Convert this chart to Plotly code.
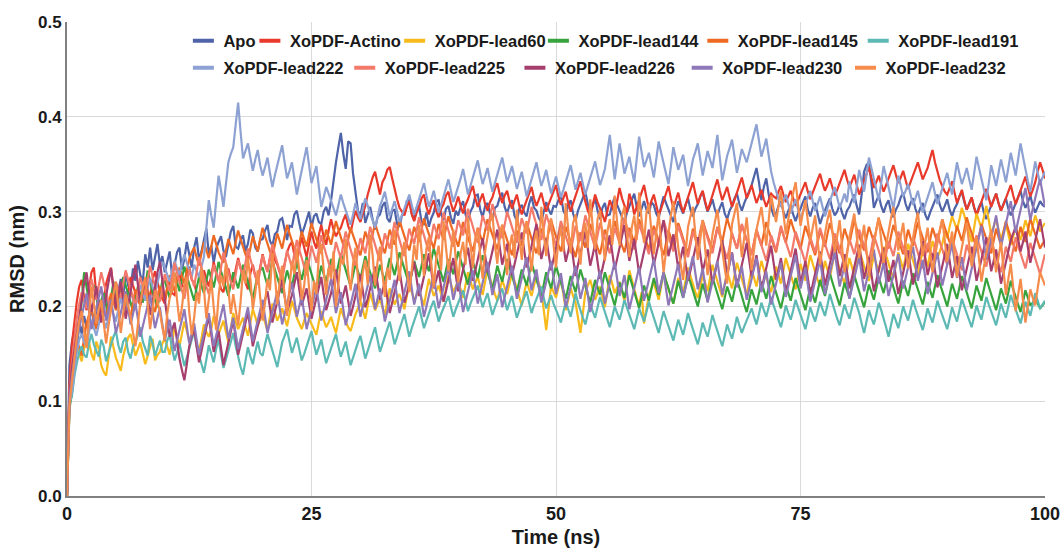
import plotly.graph_objects as go

# Time axis: 0 to 100 ns sampled every 0.25 ns (401 samples)
n_samples = 401
time_ns = [i * 0.25 for i in range(n_samples)]

series_names = ["Apo", "XoPDF-Actino", "XoPDF-lead60", "XoPDF-lead144", "XoPDF-lead145",
                "XoPDF-lead191", "XoPDF-lead222", "XoPDF-lead225", "XoPDF-lead226",
                "XoPDF-lead230", "XoPDF-lead232"]

apo = [
    0.000, 0.138, 0.162, 0.175, 0.168, 0.183, 0.171, 0.190, 0.178, 0.186, 0.199, 0.181, 0.195, 0.207, 0.188, 0.202, 0.214, 0.196, 0.209, 0.220,
    0.204, 0.217, 0.229, 0.211, 0.236, 0.222, 0.218, 0.240, 0.227, 0.248, 0.233, 0.226, 0.255, 0.241, 0.262, 0.238, 0.251, 0.266, 0.244, 0.253,
    0.236, 0.249, 0.258, 0.231, 0.244, 0.257, 0.262, 0.239, 0.250, 0.268, 0.255, 0.241, 0.262, 0.273, 0.249, 0.258, 0.270, 0.282, 0.255, 0.264,
    0.246, 0.261, 0.268, 0.274, 0.259, 0.252, 0.266, 0.279, 0.285, 0.263, 0.261, 0.270, 0.275, 0.258, 0.266, 0.281, 0.277, 0.262, 0.258, 0.270,
    0.271, 0.280, 0.286, 0.269, 0.264, 0.276, 0.279, 0.291, 0.293, 0.281, 0.270, 0.285, 0.284, 0.297, 0.301, 0.288, 0.276, 0.283, 0.292, 0.300,
    0.283, 0.295, 0.298, 0.289, 0.287, 0.300, 0.305, 0.296, 0.312, 0.334, 0.352, 0.368, 0.383, 0.361, 0.345, 0.374, 0.372, 0.340, 0.318, 0.301,
    0.296, 0.309, 0.288, 0.297, 0.305, 0.292, 0.281, 0.294, 0.297, 0.306, 0.310, 0.293, 0.289, 0.301, 0.302, 0.287, 0.284, 0.296, 0.299, 0.311,
    0.312, 0.298, 0.291, 0.304, 0.306, 0.289, 0.287, 0.299, 0.284, 0.293, 0.299, 0.311, 0.312, 0.297, 0.291, 0.303, 0.306, 0.294, 0.287, 0.301,
    0.296, 0.305, 0.311, 0.297, 0.289, 0.300, 0.305, 0.317, 0.318, 0.302, 0.294, 0.306, 0.309, 0.298, 0.291, 0.304, 0.306, 0.315, 0.320, 0.305,
    0.298, 0.307, 0.312, 0.296, 0.290, 0.303, 0.307, 0.299, 0.295, 0.308, 0.316, 0.304, 0.301, 0.293, 0.289, 0.300, 0.310, 0.302, 0.297, 0.306,
    0.305, 0.312, 0.318, 0.301, 0.296, 0.307, 0.312, 0.298, 0.290, 0.301, 0.308, 0.315, 0.321, 0.308, 0.299, 0.306, 0.314, 0.301, 0.292, 0.304,
    0.309, 0.296, 0.297, 0.308, 0.315, 0.307, 0.301, 0.293, 0.288, 0.299, 0.306, 0.313, 0.319, 0.305, 0.295, 0.303, 0.311, 0.302, 0.298, 0.310,
    0.307, 0.298, 0.293, 0.306, 0.316, 0.309, 0.302, 0.294, 0.289, 0.301, 0.311, 0.304, 0.298, 0.307, 0.314, 0.302, 0.295, 0.303, 0.308, 0.316,
    0.321, 0.309, 0.300, 0.306, 0.313, 0.302, 0.296, 0.304, 0.310, 0.298, 0.292, 0.301, 0.306, 0.314, 0.319, 0.308, 0.301, 0.309, 0.315, 0.322,
    0.328, 0.337, 0.346, 0.331, 0.312, 0.326, 0.335, 0.318, 0.304, 0.296, 0.298, 0.306, 0.311, 0.300, 0.293, 0.301, 0.307, 0.297, 0.290, 0.298,
    0.303, 0.310, 0.316, 0.302, 0.295, 0.304, 0.309, 0.298, 0.287, 0.295, 0.301, 0.309, 0.314, 0.303, 0.296, 0.300, 0.308, 0.299, 0.292, 0.301,
    0.305, 0.312, 0.318, 0.306, 0.297, 0.318, 0.342, 0.349, 0.352, 0.330, 0.304, 0.311, 0.317, 0.306, 0.299, 0.307, 0.312, 0.300, 0.294, 0.302,
    0.307, 0.315, 0.320, 0.308, 0.301, 0.309, 0.314, 0.303, 0.296, 0.304, 0.309, 0.297, 0.291, 0.299, 0.305, 0.312, 0.318, 0.307, 0.300, 0.306,
    0.313, 0.302, 0.295, 0.303, 0.308, 0.316, 0.321, 0.310, 0.302, 0.309, 0.315, 0.304, 0.297, 0.305, 0.310, 0.299, 0.292, 0.300, 0.306, 0.313,
    0.319, 0.309, 0.301, 0.308, 0.314, 0.303, 0.296, 0.302, 0.309, 0.317, 0.322, 0.311, 0.304, 0.310, 0.317, 0.306, 0.299, 0.305, 0.311, 0.307, 0.305,
]

actino = [
    0.000, 0.118, 0.160, 0.186, 0.205, 0.221, 0.228, 0.209, 0.196, 0.218, 0.236, 0.241, 0.212, 0.198, 0.189, 0.207, 0.224, 0.233, 0.241, 0.219,
    0.206, 0.213, 0.218, 0.201, 0.195, 0.214, 0.231, 0.222, 0.214, 0.206, 0.202, 0.219, 0.226, 0.215, 0.209, 0.228, 0.237, 0.224, 0.215, 0.208,
    0.203, 0.219, 0.228, 0.214, 0.212, 0.226, 0.236, 0.223, 0.219, 0.231, 0.242, 0.228, 0.225, 0.214, 0.210, 0.227, 0.238, 0.229, 0.221, 0.232,
    0.247, 0.235, 0.229, 0.218, 0.215, 0.231, 0.240, 0.228, 0.226, 0.239, 0.251, 0.240, 0.233, 0.224, 0.218, 0.235, 0.244, 0.232, 0.230, 0.241,
    0.255, 0.244, 0.237, 0.251, 0.262, 0.249, 0.244, 0.236, 0.229, 0.245, 0.257, 0.264, 0.268, 0.254, 0.246, 0.261, 0.273, 0.262, 0.252, 0.266,
    0.279, 0.268, 0.261, 0.275, 0.286, 0.273, 0.265, 0.280, 0.292, 0.281, 0.274, 0.279, 0.283, 0.291, 0.297, 0.285, 0.278, 0.290, 0.301, 0.294,
    0.289, 0.298, 0.306, 0.318, 0.327, 0.336, 0.342, 0.329, 0.318, 0.331, 0.336, 0.344, 0.347, 0.335, 0.323, 0.313, 0.304, 0.300, 0.296, 0.305,
    0.311, 0.297, 0.290, 0.299, 0.305, 0.314, 0.318, 0.305, 0.297, 0.306, 0.312, 0.301, 0.294, 0.303, 0.308, 0.317, 0.321, 0.309, 0.300, 0.307,
    0.316, 0.306, 0.298, 0.307, 0.313, 0.321, 0.327, 0.314, 0.305, 0.312, 0.319, 0.308, 0.301, 0.310, 0.315, 0.324, 0.330, 0.318, 0.309, 0.317,
    0.322, 0.311, 0.303, 0.311, 0.318, 0.306, 0.297, 0.305, 0.312, 0.320, 0.326, 0.314, 0.306, 0.313, 0.320, 0.309, 0.300, 0.308, 0.314, 0.322,
    0.328, 0.316, 0.307, 0.314, 0.321, 0.309, 0.300, 0.309, 0.316, 0.325, 0.332, 0.320, 0.310, 0.301, 0.295, 0.306, 0.318, 0.310, 0.304, 0.297,
    0.289, 0.300, 0.312, 0.305, 0.298, 0.311, 0.325, 0.314, 0.306, 0.299, 0.319, 0.311, 0.297, 0.305, 0.314, 0.321, 0.328, 0.315, 0.303, 0.311,
    0.318, 0.307, 0.296, 0.303, 0.311, 0.320, 0.327, 0.314, 0.304, 0.312, 0.320, 0.308, 0.299, 0.307, 0.315, 0.324, 0.331, 0.319, 0.308, 0.316,
    0.322, 0.311, 0.301, 0.309, 0.317, 0.326, 0.334, 0.322, 0.312, 0.319, 0.326, 0.315, 0.305, 0.312, 0.319, 0.328, 0.336, 0.324, 0.314, 0.320,
    0.328, 0.318, 0.309, 0.316, 0.323, 0.313, 0.305, 0.312, 0.319, 0.316, 0.314, 0.321, 0.327, 0.318, 0.310, 0.316, 0.322, 0.314, 0.306, 0.312,
    0.318, 0.325, 0.331, 0.321, 0.313, 0.320, 0.327, 0.334, 0.340, 0.330, 0.322, 0.328, 0.335, 0.326, 0.317, 0.323, 0.330, 0.337, 0.344, 0.334,
    0.326, 0.332, 0.339, 0.328, 0.318, 0.325, 0.333, 0.340, 0.347, 0.336, 0.325, 0.331, 0.338, 0.329, 0.321, 0.328, 0.335, 0.342, 0.349, 0.339,
    0.330, 0.336, 0.343, 0.333, 0.324, 0.331, 0.338, 0.345, 0.352, 0.343, 0.334, 0.340, 0.346, 0.356, 0.365, 0.352, 0.341, 0.333, 0.327, 0.321,
    0.318, 0.325, 0.332, 0.320, 0.309, 0.316, 0.323, 0.312, 0.302, 0.308, 0.315, 0.305, 0.296, 0.303, 0.311, 0.318, 0.324, 0.314, 0.305, 0.312,
    0.319, 0.309, 0.301, 0.307, 0.314, 0.321, 0.328, 0.317, 0.308, 0.315, 0.322, 0.330, 0.337, 0.326, 0.316, 0.323, 0.331, 0.342, 0.352, 0.344, 0.335,
]

lead60 = [
    0.000, 0.102, 0.130, 0.148, 0.158, 0.149, 0.142, 0.156, 0.171, 0.162, 0.150, 0.143, 0.163, 0.155, 0.138, 0.131, 0.127, 0.146, 0.168, 0.157,
    0.146, 0.139, 0.132, 0.148, 0.159, 0.167, 0.171, 0.160, 0.148, 0.155, 0.162, 0.150, 0.139, 0.148, 0.157, 0.166, 0.143, 0.149, 0.152, 0.161,
    0.166, 0.158, 0.149, 0.163, 0.178, 0.169, 0.158, 0.171, 0.184, 0.174, 0.163, 0.168, 0.175, 0.161, 0.152, 0.166, 0.181, 0.173, 0.168, 0.176,
    0.190, 0.180, 0.171, 0.178, 0.185, 0.173, 0.162, 0.177, 0.193, 0.184, 0.176, 0.182, 0.188, 0.178, 0.169, 0.183, 0.197, 0.189, 0.180, 0.186,
    0.192, 0.183, 0.174, 0.189, 0.203, 0.194, 0.185, 0.191, 0.198, 0.188, 0.179, 0.192, 0.206, 0.197, 0.188, 0.182, 0.176, 0.185, 0.193, 0.187,
    0.181, 0.175, 0.170, 0.183, 0.195, 0.186, 0.178, 0.183, 0.189, 0.180, 0.172, 0.185, 0.198, 0.190, 0.183, 0.178, 0.174, 0.183, 0.192, 0.198,
    0.205, 0.196, 0.187, 0.201, 0.214, 0.205, 0.196, 0.202, 0.208, 0.199, 0.191, 0.205, 0.219, 0.210, 0.202, 0.208, 0.213, 0.205, 0.197, 0.211,
    0.224, 0.215, 0.206, 0.212, 0.218, 0.209, 0.201, 0.215, 0.229, 0.220, 0.211, 0.216, 0.222, 0.213, 0.205, 0.219, 0.233, 0.224, 0.215, 0.221,
    0.227, 0.218, 0.209, 0.223, 0.236, 0.227, 0.218, 0.225, 0.231, 0.221, 0.212, 0.226, 0.240, 0.230, 0.221, 0.213, 0.206, 0.217, 0.228, 0.220,
    0.213, 0.224, 0.235, 0.227, 0.219, 0.210, 0.201, 0.214, 0.226, 0.218, 0.211, 0.222, 0.232, 0.224, 0.216, 0.196, 0.175, 0.199, 0.222, 0.215,
    0.209, 0.220, 0.230, 0.213, 0.196, 0.207, 0.219, 0.211, 0.204, 0.188, 0.172, 0.193, 0.215, 0.222, 0.228, 0.218, 0.207, 0.214, 0.221, 0.210,
    0.199, 0.216, 0.233, 0.224, 0.214, 0.220, 0.226, 0.216, 0.205, 0.221, 0.238, 0.228, 0.217, 0.209, 0.201, 0.215, 0.182, 0.196, 0.212, 0.219,
    0.225, 0.216, 0.207, 0.221, 0.236, 0.227, 0.218, 0.210, 0.203, 0.216, 0.230, 0.222, 0.214, 0.227, 0.241, 0.232, 0.222, 0.215, 0.209, 0.221,
    0.233, 0.225, 0.216, 0.230, 0.244, 0.235, 0.225, 0.218, 0.210, 0.224, 0.237, 0.228, 0.219, 0.233, 0.246, 0.237, 0.228, 0.220, 0.212, 0.226,
    0.239, 0.230, 0.221, 0.235, 0.248, 0.239, 0.230, 0.222, 0.215, 0.229, 0.242, 0.233, 0.224, 0.238, 0.251, 0.242, 0.233, 0.225, 0.218, 0.232,
    0.245, 0.236, 0.227, 0.241, 0.254, 0.245, 0.236, 0.228, 0.221, 0.235, 0.248, 0.239, 0.230, 0.244, 0.257, 0.248, 0.239, 0.231, 0.224, 0.238,
    0.251, 0.242, 0.233, 0.247, 0.260, 0.251, 0.242, 0.234, 0.227, 0.241, 0.254, 0.245, 0.236, 0.250, 0.263, 0.254, 0.245, 0.237, 0.230, 0.244,
    0.257, 0.248, 0.239, 0.253, 0.266, 0.257, 0.248, 0.240, 0.233, 0.247, 0.260, 0.251, 0.242, 0.256, 0.269, 0.260, 0.251, 0.258, 0.266, 0.279,
    0.272, 0.284, 0.295, 0.288, 0.281, 0.292, 0.304, 0.296, 0.287, 0.277, 0.268, 0.283, 0.298, 0.290, 0.283, 0.294, 0.306, 0.291, 0.276, 0.284,
    0.292, 0.281, 0.271, 0.279, 0.288, 0.276, 0.265, 0.274, 0.284, 0.277, 0.270, 0.280, 0.291, 0.283, 0.274, 0.285, 0.296, 0.288, 0.279, 0.284, 0.288,
]

lead144 = [
    0.000, 0.092, 0.108, 0.131, 0.156, 0.178, 0.205, 0.236, 0.221, 0.205, 0.214, 0.222, 0.209, 0.198, 0.206, 0.214, 0.201, 0.190, 0.208, 0.226,
    0.216, 0.207, 0.219, 0.231, 0.222, 0.212, 0.203, 0.195, 0.208, 0.221, 0.213, 0.204, 0.220, 0.238, 0.227, 0.215, 0.207, 0.199, 0.213, 0.227,
    0.227, 0.218, 0.209, 0.222, 0.235, 0.226, 0.216, 0.229, 0.242, 0.232, 0.223, 0.214, 0.206, 0.219, 0.231, 0.222, 0.214, 0.227, 0.239, 0.230,
    0.220, 0.233, 0.247, 0.237, 0.228, 0.219, 0.211, 0.224, 0.236, 0.227, 0.219, 0.231, 0.244, 0.234, 0.225, 0.216, 0.208, 0.221, 0.233, 0.238,
    0.241, 0.231, 0.222, 0.236, 0.249, 0.239, 0.230, 0.222, 0.214, 0.226, 0.238, 0.229, 0.221, 0.234, 0.246, 0.237, 0.228, 0.240, 0.252, 0.243,
    0.234, 0.225, 0.217, 0.230, 0.243, 0.234, 0.226, 0.238, 0.250, 0.241, 0.232, 0.244, 0.256, 0.247, 0.238, 0.229, 0.221, 0.233, 0.245, 0.237,
    0.229, 0.241, 0.253, 0.244, 0.236, 0.227, 0.219, 0.231, 0.244, 0.235, 0.227, 0.239, 0.251, 0.242, 0.233, 0.245, 0.257, 0.248, 0.240, 0.231,
    0.223, 0.235, 0.248, 0.239, 0.231, 0.243, 0.255, 0.246, 0.237, 0.249, 0.261, 0.252, 0.243, 0.234, 0.226, 0.238, 0.250, 0.242, 0.234, 0.246,
    0.258, 0.249, 0.240, 0.231, 0.223, 0.235, 0.247, 0.238, 0.230, 0.242, 0.254, 0.245, 0.236, 0.227, 0.218, 0.230, 0.243, 0.234, 0.226, 0.238,
    0.250, 0.241, 0.232, 0.223, 0.215, 0.227, 0.239, 0.230, 0.222, 0.234, 0.246, 0.237, 0.229, 0.220, 0.211, 0.223, 0.236, 0.227, 0.219, 0.231,
    0.243, 0.234, 0.225, 0.216, 0.208, 0.220, 0.232, 0.223, 0.215, 0.227, 0.239, 0.230, 0.221, 0.212, 0.204, 0.216, 0.228, 0.220, 0.212, 0.224,
    0.236, 0.227, 0.218, 0.209, 0.201, 0.213, 0.225, 0.217, 0.209, 0.221, 0.233, 0.224, 0.215, 0.206, 0.198, 0.210, 0.222, 0.214, 0.206, 0.218,
    0.230, 0.221, 0.212, 0.224, 0.236, 0.227, 0.219, 0.211, 0.203, 0.215, 0.227, 0.218, 0.209, 0.221, 0.233, 0.225, 0.216, 0.208, 0.200, 0.212,
    0.224, 0.215, 0.206, 0.218, 0.231, 0.222, 0.213, 0.205, 0.197, 0.209, 0.221, 0.213, 0.205, 0.217, 0.229, 0.220, 0.210, 0.202, 0.194, 0.206,
    0.218, 0.210, 0.202, 0.214, 0.226, 0.217, 0.208, 0.220, 0.232, 0.223, 0.215, 0.206, 0.198, 0.210, 0.222, 0.214, 0.206, 0.218, 0.230, 0.221,
    0.212, 0.204, 0.196, 0.208, 0.220, 0.212, 0.204, 0.216, 0.228, 0.219, 0.211, 0.223, 0.235, 0.226, 0.217, 0.209, 0.201, 0.213, 0.225, 0.217,
    0.209, 0.221, 0.233, 0.224, 0.215, 0.207, 0.199, 0.211, 0.223, 0.215, 0.207, 0.219, 0.231, 0.222, 0.214, 0.226, 0.238, 0.229, 0.220, 0.212,
    0.203, 0.215, 0.227, 0.219, 0.211, 0.223, 0.235, 0.226, 0.218, 0.210, 0.202, 0.214, 0.226, 0.217, 0.209, 0.221, 0.233, 0.224, 0.216, 0.208,
    0.200, 0.212, 0.224, 0.216, 0.208, 0.220, 0.232, 0.223, 0.214, 0.206, 0.198, 0.210, 0.222, 0.214, 0.206, 0.218, 0.230, 0.221, 0.212, 0.204,
    0.196, 0.207, 0.219, 0.211, 0.203, 0.215, 0.227, 0.218, 0.210, 0.202, 0.194, 0.205, 0.217, 0.209, 0.201, 0.204, 0.208, 0.203, 0.198, 0.201, 0.205,
]

lead145 = [
    0.000, 0.094, 0.120, 0.142, 0.165, 0.156, 0.148, 0.167, 0.182, 0.191, 0.197, 0.185, 0.176, 0.192, 0.205, 0.196, 0.188, 0.202, 0.214, 0.205,
    0.196, 0.210, 0.222, 0.213, 0.203, 0.196, 0.189, 0.204, 0.218, 0.209, 0.201, 0.214, 0.227, 0.218, 0.209, 0.201, 0.194, 0.208, 0.221, 0.213,
    0.207, 0.220, 0.233, 0.224, 0.216, 0.229, 0.241, 0.232, 0.224, 0.238, 0.250, 0.257, 0.262, 0.252, 0.243, 0.256, 0.268, 0.259, 0.251, 0.263,
    0.275, 0.266, 0.257, 0.251, 0.246, 0.259, 0.271, 0.263, 0.255, 0.268, 0.280, 0.271, 0.262, 0.255, 0.249, 0.262, 0.274, 0.266, 0.258, 0.271,
    0.283, 0.274, 0.265, 0.258, 0.252, 0.265, 0.277, 0.269, 0.261, 0.274, 0.286, 0.277, 0.268, 0.261, 0.254, 0.267, 0.279, 0.271, 0.263, 0.276,
    0.288, 0.279, 0.270, 0.263, 0.256, 0.269, 0.281, 0.273, 0.265, 0.278, 0.290, 0.281, 0.272, 0.265, 0.258, 0.271, 0.283, 0.275, 0.267, 0.260,
    0.254, 0.267, 0.279, 0.271, 0.263, 0.276, 0.288, 0.279, 0.270, 0.263, 0.256, 0.269, 0.281, 0.273, 0.265, 0.278, 0.291, 0.282, 0.273, 0.266,
    0.259, 0.272, 0.284, 0.276, 0.268, 0.281, 0.293, 0.284, 0.276, 0.268, 0.261, 0.274, 0.287, 0.278, 0.270, 0.283, 0.295, 0.286, 0.278, 0.270,
    0.263, 0.276, 0.289, 0.280, 0.272, 0.265, 0.258, 0.271, 0.283, 0.275, 0.267, 0.280, 0.292, 0.283, 0.275, 0.267, 0.260, 0.273, 0.286, 0.278,
    0.269, 0.262, 0.254, 0.267, 0.280, 0.272, 0.264, 0.277, 0.289, 0.280, 0.271, 0.263, 0.256, 0.269, 0.282, 0.274, 0.266, 0.279, 0.291, 0.282,
    0.273, 0.265, 0.258, 0.271, 0.284, 0.276, 0.267, 0.260, 0.252, 0.265, 0.278, 0.270, 0.262, 0.275, 0.287, 0.279, 0.270, 0.262, 0.255, 0.268,
    0.281, 0.273, 0.265, 0.278, 0.290, 0.281, 0.272, 0.264, 0.257, 0.270, 0.283, 0.275, 0.267, 0.280, 0.292, 0.283, 0.275, 0.267, 0.260, 0.272,
    0.285, 0.277, 0.269, 0.261, 0.254, 0.267, 0.280, 0.272, 0.263, 0.276, 0.288, 0.280, 0.271, 0.263, 0.256, 0.269, 0.282, 0.274, 0.266, 0.279,
    0.291, 0.282, 0.274, 0.266, 0.259, 0.272, 0.284, 0.276, 0.268, 0.281, 0.293, 0.284, 0.276, 0.268, 0.261, 0.274, 0.286, 0.278, 0.270, 0.262,
    0.255, 0.268, 0.281, 0.272, 0.264, 0.277, 0.289, 0.280, 0.272, 0.264, 0.257, 0.270, 0.283, 0.275, 0.267, 0.280, 0.292, 0.283, 0.275, 0.267,
    0.260, 0.273, 0.285, 0.277, 0.269, 0.261, 0.254, 0.267, 0.280, 0.272, 0.263, 0.276, 0.288, 0.279, 0.271, 0.263, 0.256, 0.269, 0.282, 0.274,
    0.266, 0.279, 0.291, 0.282, 0.274, 0.266, 0.259, 0.272, 0.284, 0.276, 0.268, 0.281, 0.293, 0.284, 0.276, 0.268, 0.261, 0.274, 0.286, 0.278,
    0.270, 0.262, 0.255, 0.268, 0.281, 0.272, 0.264, 0.277, 0.289, 0.280, 0.272, 0.264, 0.257, 0.270, 0.283, 0.275, 0.267, 0.280, 0.292, 0.283,
    0.275, 0.267, 0.260, 0.272, 0.285, 0.277, 0.269, 0.281, 0.294, 0.285, 0.277, 0.269, 0.262, 0.274, 0.287, 0.279, 0.271, 0.263, 0.256, 0.269,
    0.282, 0.273, 0.265, 0.278, 0.290, 0.281, 0.273, 0.265, 0.258, 0.271, 0.284, 0.276, 0.268, 0.280, 0.293, 0.284, 0.276, 0.268, 0.261, 0.266, 0.270,
]

lead191 = [
    0.000, 0.098, 0.105, 0.126, 0.140, 0.152, 0.158, 0.149, 0.146, 0.161, 0.171, 0.160, 0.153, 0.147, 0.165, 0.158, 0.142, 0.151, 0.160, 0.168,
    0.174, 0.159, 0.151, 0.163, 0.167, 0.152, 0.145, 0.158, 0.162, 0.171, 0.178, 0.163, 0.155, 0.148, 0.169, 0.161, 0.148, 0.157, 0.164, 0.152,
    0.152, 0.164, 0.170, 0.155, 0.143, 0.151, 0.161, 0.149, 0.137, 0.146, 0.156, 0.167, 0.174, 0.158, 0.148, 0.139, 0.130, 0.144, 0.159, 0.150,
    0.141, 0.155, 0.166, 0.149, 0.135, 0.144, 0.153, 0.163, 0.172, 0.158, 0.146, 0.136, 0.128, 0.142, 0.157, 0.147, 0.139, 0.152, 0.163, 0.151,
    0.148, 0.160, 0.171, 0.162, 0.154, 0.145, 0.136, 0.149, 0.162, 0.169, 0.176, 0.163, 0.151, 0.159, 0.167, 0.155, 0.143, 0.150, 0.158, 0.166,
    0.174, 0.160, 0.149, 0.157, 0.165, 0.152, 0.140, 0.148, 0.156, 0.164, 0.171, 0.158, 0.147, 0.155, 0.163, 0.150, 0.138, 0.146, 0.155, 0.162,
    0.169, 0.157, 0.145, 0.153, 0.161, 0.170, 0.178, 0.165, 0.152, 0.160, 0.168, 0.176, 0.184, 0.172, 0.160, 0.168, 0.176, 0.184, 0.192, 0.180,
    0.168, 0.177, 0.185, 0.193, 0.200, 0.188, 0.177, 0.185, 0.193, 0.200, 0.206, 0.195, 0.184, 0.192, 0.199, 0.205, 0.211, 0.200, 0.189, 0.197,
    0.204, 0.211, 0.217, 0.206, 0.195, 0.203, 0.210, 0.216, 0.222, 0.210, 0.199, 0.207, 0.214, 0.202, 0.191, 0.199, 0.207, 0.213, 0.219, 0.208,
    0.196, 0.204, 0.211, 0.199, 0.188, 0.196, 0.203, 0.210, 0.216, 0.204, 0.193, 0.201, 0.208, 0.215, 0.221, 0.209, 0.198, 0.205, 0.212, 0.203,
    0.197, 0.190, 0.183, 0.194, 0.205, 0.197, 0.189, 0.201, 0.214, 0.204, 0.195, 0.188, 0.181, 0.192, 0.203, 0.195, 0.188, 0.199, 0.210, 0.202,
    0.193, 0.186, 0.178, 0.189, 0.200, 0.193, 0.186, 0.196, 0.207, 0.199, 0.191, 0.184, 0.176, 0.187, 0.198, 0.191, 0.184, 0.194, 0.205, 0.196,
    0.188, 0.180, 0.172, 0.184, 0.195, 0.187, 0.179, 0.171, 0.164, 0.175, 0.186, 0.178, 0.170, 0.181, 0.193, 0.184, 0.176, 0.168, 0.160, 0.171,
    0.183, 0.175, 0.168, 0.179, 0.191, 0.182, 0.174, 0.166, 0.158, 0.169, 0.181, 0.173, 0.166, 0.177, 0.189, 0.180, 0.172, 0.179, 0.185, 0.192,
    0.198, 0.189, 0.181, 0.192, 0.204, 0.196, 0.189, 0.199, 0.210, 0.201, 0.193, 0.185, 0.178, 0.189, 0.201, 0.193, 0.186, 0.196, 0.207, 0.199,
    0.191, 0.183, 0.176, 0.187, 0.199, 0.191, 0.184, 0.194, 0.205, 0.197, 0.190, 0.201, 0.213, 0.204, 0.195, 0.187, 0.180, 0.191, 0.202, 0.194,
    0.187, 0.198, 0.209, 0.201, 0.193, 0.182, 0.172, 0.184, 0.196, 0.188, 0.181, 0.192, 0.204, 0.196, 0.188, 0.178, 0.168, 0.180, 0.192, 0.185,
    0.177, 0.188, 0.200, 0.192, 0.185, 0.196, 0.207, 0.198, 0.190, 0.182, 0.175, 0.186, 0.198, 0.190, 0.183, 0.194, 0.206, 0.198, 0.191, 0.183,
    0.176, 0.187, 0.199, 0.191, 0.184, 0.196, 0.208, 0.200, 0.192, 0.185, 0.178, 0.189, 0.201, 0.193, 0.186, 0.198, 0.210, 0.202, 0.194, 0.187,
    0.180, 0.191, 0.203, 0.195, 0.188, 0.200, 0.212, 0.204, 0.196, 0.189, 0.182, 0.193, 0.205, 0.197, 0.190, 0.202, 0.214, 0.206, 0.198, 0.202, 0.206,
]

lead222 = [
    0.000, 0.096, 0.110, 0.132, 0.152, 0.165, 0.171, 0.162, 0.158, 0.173, 0.186, 0.177, 0.169, 0.181, 0.193, 0.185, 0.177, 0.190, 0.201, 0.192,
    0.184, 0.197, 0.209, 0.200, 0.192, 0.205, 0.216, 0.207, 0.199, 0.212, 0.223, 0.214, 0.206, 0.219, 0.230, 0.221, 0.213, 0.225, 0.236, 0.247,
    0.241, 0.233, 0.226, 0.238, 0.248, 0.240, 0.233, 0.245, 0.255, 0.246, 0.238, 0.231, 0.244, 0.237, 0.231, 0.242, 0.252, 0.283, 0.312, 0.296,
    0.283, 0.311, 0.338, 0.322, 0.305, 0.329, 0.352, 0.361, 0.368, 0.392, 0.415, 0.384, 0.356, 0.364, 0.372, 0.357, 0.343, 0.355, 0.365, 0.349,
    0.338, 0.347, 0.357, 0.341, 0.326, 0.338, 0.349, 0.360, 0.370, 0.352, 0.335, 0.343, 0.352, 0.335, 0.318, 0.331, 0.344, 0.356, 0.368, 0.349,
    0.330, 0.339, 0.348, 0.326, 0.305, 0.315, 0.326, 0.319, 0.312, 0.304, 0.296, 0.307, 0.318, 0.309, 0.301, 0.293, 0.286, 0.297, 0.309, 0.300,
    0.292, 0.303, 0.314, 0.306, 0.298, 0.290, 0.283, 0.294, 0.306, 0.313, 0.321, 0.308, 0.295, 0.303, 0.311, 0.300, 0.289, 0.296, 0.304, 0.311,
    0.318, 0.307, 0.297, 0.305, 0.313, 0.321, 0.330, 0.317, 0.305, 0.313, 0.322, 0.310, 0.299, 0.307, 0.316, 0.325, 0.334, 0.322, 0.310, 0.318,
    0.326, 0.335, 0.345, 0.331, 0.318, 0.327, 0.337, 0.345, 0.354, 0.341, 0.329, 0.337, 0.346, 0.333, 0.321, 0.330, 0.339, 0.348, 0.357, 0.344,
    0.331, 0.339, 0.348, 0.336, 0.324, 0.333, 0.342, 0.329, 0.316, 0.325, 0.335, 0.343, 0.352, 0.339, 0.327, 0.335, 0.344, 0.331, 0.319, 0.328,
    0.337, 0.326, 0.315, 0.323, 0.332, 0.340, 0.349, 0.336, 0.323, 0.332, 0.341, 0.329, 0.318, 0.327, 0.336, 0.344, 0.353, 0.340, 0.328, 0.336,
    0.345, 0.363, 0.381, 0.357, 0.334, 0.353, 0.372, 0.356, 0.340, 0.349, 0.358, 0.344, 0.331, 0.355, 0.379, 0.363, 0.347, 0.354, 0.362, 0.349,
    0.336, 0.355, 0.374, 0.362, 0.351, 0.340, 0.329, 0.348, 0.368, 0.356, 0.344, 0.352, 0.360, 0.343, 0.327, 0.341, 0.355, 0.363, 0.372, 0.355,
    0.338, 0.351, 0.364, 0.355, 0.346, 0.363, 0.381, 0.357, 0.333, 0.346, 0.359, 0.367, 0.376, 0.358, 0.341, 0.353, 0.366, 0.359, 0.352, 0.362,
    0.373, 0.382, 0.392, 0.375, 0.358, 0.367, 0.377, 0.359, 0.342, 0.331, 0.321, 0.313, 0.305, 0.311, 0.318, 0.308, 0.298, 0.306, 0.313, 0.302,
    0.292, 0.300, 0.308, 0.315, 0.322, 0.311, 0.301, 0.308, 0.316, 0.305, 0.295, 0.303, 0.311, 0.318, 0.326, 0.315, 0.304, 0.311, 0.319, 0.310,
    0.332, 0.320, 0.309, 0.326, 0.344, 0.332, 0.321, 0.339, 0.357, 0.346, 0.335, 0.323, 0.312, 0.330, 0.348, 0.337, 0.326, 0.314, 0.303, 0.320,
    0.338, 0.327, 0.316, 0.322, 0.329, 0.318, 0.307, 0.314, 0.322, 0.310, 0.299, 0.307, 0.315, 0.323, 0.331, 0.319, 0.308, 0.316, 0.324, 0.333,
    0.341, 0.329, 0.318, 0.335, 0.352, 0.340, 0.329, 0.337, 0.346, 0.334, 0.323, 0.340, 0.358, 0.346, 0.334, 0.323, 0.312, 0.330, 0.349, 0.338,
    0.327, 0.341, 0.355, 0.343, 0.331, 0.346, 0.362, 0.350, 0.338, 0.355, 0.372, 0.358, 0.344, 0.332, 0.321, 0.337, 0.353, 0.341, 0.330, 0.336, 0.342,
]

lead225 = [
    0.000, 0.112, 0.140, 0.166, 0.188, 0.203, 0.215, 0.206, 0.198, 0.214, 0.229, 0.218, 0.207, 0.222, 0.236, 0.225, 0.214, 0.204, 0.195, 0.210,
    0.226, 0.217, 0.209, 0.224, 0.238, 0.228, 0.217, 0.209, 0.201, 0.216, 0.231, 0.221, 0.212, 0.228, 0.243, 0.231, 0.220, 0.212, 0.205, 0.219,
    0.234, 0.225, 0.216, 0.231, 0.246, 0.235, 0.225, 0.216, 0.208, 0.223, 0.239, 0.230, 0.221, 0.236, 0.252, 0.241, 0.230, 0.221, 0.213, 0.228,
    0.244, 0.235, 0.226, 0.241, 0.257, 0.246, 0.235, 0.226, 0.218, 0.233, 0.249, 0.240, 0.231, 0.246, 0.261, 0.250, 0.240, 0.231, 0.223, 0.238,
    0.254, 0.245, 0.236, 0.251, 0.266, 0.255, 0.245, 0.236, 0.228, 0.243, 0.259, 0.250, 0.241, 0.256, 0.270, 0.260, 0.250, 0.241, 0.233, 0.248,
    0.264, 0.255, 0.246, 0.260, 0.275, 0.264, 0.254, 0.246, 0.238, 0.253, 0.268, 0.259, 0.251, 0.265, 0.279, 0.269, 0.259, 0.251, 0.243, 0.257,
    0.272, 0.264, 0.256, 0.270, 0.284, 0.274, 0.264, 0.256, 0.248, 0.262, 0.277, 0.269, 0.261, 0.275, 0.289, 0.279, 0.269, 0.261, 0.253, 0.267,
    0.282, 0.274, 0.266, 0.280, 0.294, 0.284, 0.274, 0.266, 0.258, 0.272, 0.287, 0.279, 0.271, 0.285, 0.299, 0.289, 0.279, 0.271, 0.263, 0.277,
    0.291, 0.283, 0.275, 0.289, 0.303, 0.293, 0.283, 0.275, 0.267, 0.281, 0.296, 0.288, 0.280, 0.294, 0.308, 0.298, 0.288, 0.280, 0.272, 0.286,
    0.300, 0.292, 0.284, 0.275, 0.267, 0.280, 0.293, 0.285, 0.277, 0.291, 0.305, 0.295, 0.286, 0.278, 0.270, 0.283, 0.297, 0.289, 0.281, 0.272,
    0.264, 0.277, 0.290, 0.282, 0.274, 0.266, 0.258, 0.271, 0.285, 0.277, 0.269, 0.282, 0.296, 0.287, 0.279, 0.270, 0.262, 0.275, 0.288, 0.280,
    0.272, 0.264, 0.256, 0.269, 0.283, 0.275, 0.267, 0.280, 0.293, 0.284, 0.276, 0.268, 0.260, 0.273, 0.287, 0.279, 0.271, 0.263, 0.255, 0.268,
    0.281, 0.273, 0.265, 0.278, 0.291, 0.282, 0.274, 0.266, 0.258, 0.271, 0.285, 0.277, 0.269, 0.260, 0.252, 0.265, 0.279, 0.271, 0.263, 0.276,
    0.289, 0.280, 0.272, 0.264, 0.256, 0.269, 0.283, 0.275, 0.267, 0.258, 0.250, 0.263, 0.277, 0.269, 0.261, 0.274, 0.287, 0.278, 0.270, 0.262,
    0.254, 0.267, 0.281, 0.273, 0.265, 0.256, 0.248, 0.261, 0.275, 0.267, 0.259, 0.272, 0.285, 0.276, 0.268, 0.260, 0.252, 0.265, 0.279, 0.271,
    0.263, 0.254, 0.246, 0.259, 0.273, 0.265, 0.257, 0.270, 0.283, 0.274, 0.266, 0.258, 0.250, 0.263, 0.277, 0.269, 0.261, 0.252, 0.244, 0.257,
    0.271, 0.263, 0.255, 0.268, 0.281, 0.272, 0.264, 0.256, 0.248, 0.261, 0.275, 0.267, 0.259, 0.250, 0.242, 0.255, 0.269, 0.261, 0.253, 0.266,
    0.279, 0.270, 0.262, 0.254, 0.246, 0.259, 0.273, 0.265, 0.257, 0.248, 0.240, 0.253, 0.267, 0.259, 0.251, 0.264, 0.277, 0.268, 0.260, 0.252,
    0.244, 0.257, 0.271, 0.263, 0.255, 0.246, 0.238, 0.251, 0.265, 0.257, 0.249, 0.262, 0.275, 0.266, 0.258, 0.250, 0.242, 0.255, 0.269, 0.261,
    0.253, 0.244, 0.236, 0.249, 0.263, 0.255, 0.247, 0.260, 0.273, 0.264, 0.256, 0.248, 0.240, 0.253, 0.267, 0.259, 0.251, 0.242, 0.234, 0.245, 0.255,
]

lead226 = [
    0.000, 0.108, 0.135, 0.152, 0.172, 0.190, 0.208, 0.224, 0.236, 0.215, 0.194, 0.207, 0.221, 0.202, 0.183, 0.197, 0.213, 0.228, 0.240, 0.219,
    0.198, 0.211, 0.226, 0.207, 0.187, 0.201, 0.217, 0.231, 0.244, 0.223, 0.203, 0.216, 0.230, 0.210, 0.191, 0.205, 0.222, 0.236, 0.247, 0.226,
    0.205, 0.187, 0.168, 0.175, 0.183, 0.164, 0.145, 0.133, 0.122, 0.139, 0.158, 0.168, 0.176, 0.158, 0.141, 0.153, 0.167, 0.178, 0.189, 0.171,
    0.152, 0.163, 0.174, 0.156, 0.138, 0.150, 0.163, 0.174, 0.185, 0.167, 0.149, 0.160, 0.171, 0.183, 0.194, 0.176, 0.158, 0.169, 0.180, 0.189,
    0.198, 0.207, 0.216, 0.199, 0.183, 0.194, 0.205, 0.217, 0.228, 0.211, 0.194, 0.203, 0.212, 0.224, 0.236, 0.218, 0.201, 0.210, 0.219, 0.203,
    0.187, 0.198, 0.208, 0.220, 0.231, 0.213, 0.196, 0.205, 0.214, 0.227, 0.239, 0.221, 0.203, 0.212, 0.222, 0.206, 0.190, 0.200, 0.211, 0.222,
    0.234, 0.216, 0.199, 0.208, 0.218, 0.230, 0.242, 0.224, 0.207, 0.216, 0.226, 0.209, 0.193, 0.204, 0.215, 0.227, 0.238, 0.221, 0.204, 0.213,
    0.223, 0.235, 0.247, 0.229, 0.211, 0.220, 0.230, 0.243, 0.256, 0.237, 0.219, 0.228, 0.238, 0.221, 0.205, 0.216, 0.227, 0.239, 0.251, 0.233,
    0.216, 0.227, 0.239, 0.250, 0.262, 0.244, 0.227, 0.238, 0.249, 0.261, 0.272, 0.254, 0.236, 0.247, 0.258, 0.270, 0.281, 0.262, 0.244, 0.255,
    0.266, 0.249, 0.233, 0.244, 0.255, 0.266, 0.278, 0.259, 0.241, 0.252, 0.263, 0.275, 0.287, 0.268, 0.250, 0.261, 0.272, 0.255, 0.238, 0.250,
    0.261, 0.272, 0.284, 0.265, 0.247, 0.258, 0.270, 0.251, 0.232, 0.244, 0.256, 0.267, 0.279, 0.261, 0.243, 0.254, 0.266, 0.247, 0.229, 0.240,
    0.252, 0.263, 0.275, 0.257, 0.239, 0.250, 0.262, 0.274, 0.286, 0.267, 0.248, 0.259, 0.271, 0.253, 0.235, 0.246, 0.258, 0.269, 0.281, 0.262,
    0.244, 0.255, 0.267, 0.279, 0.291, 0.272, 0.253, 0.264, 0.276, 0.258, 0.240, 0.251, 0.263, 0.245, 0.227, 0.238, 0.250, 0.261, 0.273, 0.255,
    0.237, 0.248, 0.260, 0.242, 0.224, 0.235, 0.247, 0.258, 0.270, 0.252, 0.234, 0.245, 0.257, 0.239, 0.221, 0.232, 0.244, 0.255, 0.267, 0.249,
    0.231, 0.242, 0.254, 0.236, 0.218, 0.229, 0.241, 0.252, 0.264, 0.246, 0.228, 0.239, 0.251, 0.233, 0.215, 0.226, 0.238, 0.249, 0.261, 0.243,
    0.225, 0.236, 0.248, 0.230, 0.212, 0.223, 0.235, 0.246, 0.258, 0.240, 0.222, 0.233, 0.245, 0.256, 0.268, 0.250, 0.232, 0.243, 0.255, 0.237,
    0.219, 0.230, 0.242, 0.253, 0.265, 0.247, 0.229, 0.240, 0.252, 0.234, 0.216, 0.227, 0.239, 0.250, 0.262, 0.244, 0.226, 0.237, 0.249, 0.231,
    0.213, 0.224, 0.236, 0.247, 0.259, 0.241, 0.223, 0.234, 0.246, 0.257, 0.269, 0.251, 0.233, 0.244, 0.256, 0.238, 0.220, 0.231, 0.243, 0.254,
    0.266, 0.248, 0.230, 0.241, 0.253, 0.235, 0.217, 0.228, 0.240, 0.251, 0.263, 0.245, 0.227, 0.238, 0.250, 0.261, 0.273, 0.255, 0.237, 0.248,
    0.260, 0.242, 0.224, 0.235, 0.247, 0.258, 0.270, 0.277, 0.284, 0.271, 0.258, 0.268, 0.279, 0.262, 0.246, 0.258, 0.271, 0.281, 0.292, 0.277, 0.262,
]

lead230 = [
    0.000, 0.104, 0.125, 0.146, 0.163, 0.177, 0.189, 0.201, 0.214, 0.195, 0.176, 0.187, 0.198, 0.209, 0.221, 0.203, 0.185, 0.196, 0.207, 0.190,
    0.172, 0.182, 0.193, 0.204, 0.216, 0.198, 0.181, 0.192, 0.203, 0.187, 0.168, 0.179, 0.190, 0.201, 0.212, 0.194, 0.177, 0.188, 0.199, 0.181,
    0.164, 0.175, 0.186, 0.169, 0.153, 0.164, 0.175, 0.186, 0.197, 0.179, 0.161, 0.171, 0.182, 0.165, 0.149, 0.160, 0.171, 0.182, 0.193, 0.175,
    0.158, 0.169, 0.180, 0.191, 0.202, 0.184, 0.166, 0.177, 0.188, 0.171, 0.155, 0.166, 0.177, 0.188, 0.199, 0.181, 0.163, 0.174, 0.185, 0.196,
    0.207, 0.189, 0.172, 0.183, 0.194, 0.205, 0.216, 0.198, 0.181, 0.192, 0.203, 0.214, 0.225, 0.207, 0.189, 0.200, 0.211, 0.193, 0.176, 0.187,
    0.198, 0.209, 0.220, 0.202, 0.185, 0.196, 0.207, 0.218, 0.229, 0.211, 0.193, 0.204, 0.215, 0.197, 0.180, 0.191, 0.202, 0.213, 0.224, 0.206,
    0.189, 0.200, 0.211, 0.222, 0.233, 0.215, 0.197, 0.208, 0.219, 0.201, 0.184, 0.195, 0.206, 0.217, 0.228, 0.210, 0.193, 0.204, 0.215, 0.226,
    0.237, 0.219, 0.202, 0.213, 0.224, 0.206, 0.189, 0.200, 0.211, 0.222, 0.233, 0.215, 0.198, 0.209, 0.220, 0.231, 0.242, 0.224, 0.207, 0.218,
    0.229, 0.211, 0.194, 0.205, 0.216, 0.227, 0.238, 0.220, 0.203, 0.214, 0.225, 0.236, 0.247, 0.229, 0.212, 0.223, 0.234, 0.216, 0.199, 0.210,
    0.221, 0.232, 0.243, 0.225, 0.208, 0.219, 0.230, 0.241, 0.252, 0.234, 0.217, 0.228, 0.239, 0.221, 0.204, 0.215, 0.226, 0.237, 0.248, 0.230,
    0.213, 0.224, 0.235, 0.217, 0.199, 0.210, 0.221, 0.232, 0.243, 0.225, 0.208, 0.219, 0.230, 0.212, 0.194, 0.205, 0.216, 0.227, 0.238, 0.220,
    0.203, 0.214, 0.225, 0.236, 0.247, 0.229, 0.211, 0.222, 0.233, 0.215, 0.197, 0.208, 0.219, 0.230, 0.241, 0.223, 0.206, 0.217, 0.228, 0.239,
    0.250, 0.232, 0.214, 0.225, 0.236, 0.218, 0.201, 0.212, 0.223, 0.234, 0.245, 0.227, 0.209, 0.220, 0.231, 0.242, 0.253, 0.235, 0.218, 0.229,
    0.240, 0.222, 0.204, 0.215, 0.226, 0.237, 0.248, 0.230, 0.212, 0.223, 0.234, 0.245, 0.256, 0.238, 0.220, 0.231, 0.242, 0.224, 0.207, 0.218,
    0.229, 0.240, 0.251, 0.233, 0.215, 0.226, 0.237, 0.219, 0.202, 0.213, 0.224, 0.235, 0.246, 0.228, 0.210, 0.221, 0.232, 0.243, 0.254, 0.236,
    0.219, 0.230, 0.241, 0.223, 0.205, 0.216, 0.227, 0.238, 0.249, 0.231, 0.213, 0.224, 0.235, 0.246, 0.257, 0.239, 0.221, 0.232, 0.243, 0.225,
    0.208, 0.219, 0.230, 0.241, 0.252, 0.234, 0.216, 0.227, 0.238, 0.249, 0.260, 0.242, 0.224, 0.235, 0.246, 0.228, 0.211, 0.222, 0.233, 0.244,
    0.255, 0.237, 0.219, 0.230, 0.241, 0.252, 0.263, 0.245, 0.227, 0.238, 0.249, 0.231, 0.213, 0.224, 0.235, 0.246, 0.257, 0.239, 0.222, 0.233,
    0.244, 0.255, 0.266, 0.248, 0.230, 0.241, 0.252, 0.234, 0.217, 0.228, 0.239, 0.250, 0.261, 0.273, 0.285, 0.267, 0.249, 0.260, 0.272, 0.284,
    0.296, 0.279, 0.263, 0.275, 0.287, 0.299, 0.311, 0.294, 0.278, 0.290, 0.302, 0.313, 0.325, 0.308, 0.291, 0.303, 0.316, 0.325, 0.334, 0.319, 0.305,
]

lead232 = [
    0.000, 0.096, 0.120, 0.148, 0.168, 0.185, 0.195, 0.174, 0.156, 0.190, 0.221, 0.203, 0.182, 0.197, 0.207, 0.183, 0.161, 0.180, 0.198, 0.213,
    0.226, 0.198, 0.172, 0.193, 0.213, 0.201, 0.189, 0.172, 0.158, 0.181, 0.204, 0.219, 0.231, 0.202, 0.176, 0.196, 0.217, 0.205, 0.194, 0.178,
    0.165, 0.192, 0.209, 0.218, 0.236, 0.207, 0.184, 0.199, 0.222, 0.231, 0.194, 0.170, 0.188, 0.214, 0.203, 0.241, 0.219, 0.187, 0.206, 0.228,
    0.199, 0.175, 0.211, 0.233, 0.221, 0.246, 0.218, 0.192, 0.213, 0.197, 0.180, 0.205, 0.238, 0.224, 0.251, 0.229, 0.197, 0.214, 0.238, 0.210,
    0.185, 0.204, 0.229, 0.217, 0.256, 0.233, 0.202, 0.226, 0.243, 0.211, 0.190, 0.219, 0.248, 0.234, 0.261, 0.238, 0.207, 0.222, 0.249, 0.220,
    0.195, 0.227, 0.213, 0.253, 0.266, 0.238, 0.212, 0.241, 0.229, 0.258, 0.200, 0.223, 0.251, 0.244, 0.271, 0.236, 0.217, 0.245, 0.262, 0.230,
    0.205, 0.236, 0.249, 0.223, 0.276, 0.254, 0.222, 0.247, 0.263, 0.235, 0.210, 0.241, 0.228, 0.268, 0.281, 0.253, 0.227, 0.256, 0.268, 0.240,
    0.215, 0.238, 0.265, 0.249, 0.286, 0.258, 0.232, 0.261, 0.273, 0.245, 0.220, 0.251, 0.264, 0.238, 0.290, 0.262, 0.237, 0.258, 0.281, 0.250,
    0.225, 0.256, 0.268, 0.244, 0.294, 0.266, 0.241, 0.270, 0.282, 0.254, 0.229, 0.258, 0.272, 0.289, 0.298, 0.265, 0.245, 0.276, 0.286, 0.258,
    0.233, 0.262, 0.276, 0.251, 0.302, 0.274, 0.249, 0.280, 0.290, 0.262, 0.237, 0.268, 0.280, 0.254, 0.305, 0.277, 0.253, 0.284, 0.293, 0.265,
    0.241, 0.270, 0.284, 0.258, 0.309, 0.281, 0.256, 0.288, 0.297, 0.269, 0.244, 0.276, 0.288, 0.262, 0.313, 0.285, 0.260, 0.292, 0.301, 0.273,
    0.248, 0.279, 0.292, 0.265, 0.317, 0.289, 0.264, 0.296, 0.305, 0.277, 0.252, 0.283, 0.296, 0.270, 0.320, 0.292, 0.267, 0.299, 0.308, 0.280,
    0.255, 0.277, 0.299, 0.266, 0.236, 0.258, 0.280, 0.296, 0.311, 0.285, 0.262, 0.244, 0.228, 0.256, 0.284, 0.295, 0.305, 0.276, 0.249, 0.271,
    0.291, 0.261, 0.233, 0.255, 0.276, 0.289, 0.302, 0.279, 0.258, 0.240, 0.224, 0.255, 0.287, 0.298, 0.309, 0.280, 0.252, 0.273, 0.294, 0.265,
    0.238, 0.260, 0.281, 0.293, 0.305, 0.285, 0.264, 0.291, 0.317, 0.303, 0.289, 0.306, 0.322, 0.298, 0.276, 0.292, 0.308, 0.320, 0.331, 0.307,
    0.285, 0.299, 0.312, 0.290, 0.269, 0.283, 0.296, 0.270, 0.244, 0.262, 0.279, 0.291, 0.302, 0.279, 0.257, 0.274, 0.291, 0.263, 0.236, 0.254,
    0.273, 0.286, 0.298, 0.274, 0.251, 0.269, 0.286, 0.259, 0.232, 0.250, 0.267, 0.281, 0.294, 0.270, 0.246, 0.264, 0.281, 0.293, 0.305, 0.282,
    0.259, 0.274, 0.288, 0.264, 0.240, 0.257, 0.274, 0.287, 0.299, 0.276, 0.253, 0.268, 0.283, 0.259, 0.236, 0.253, 0.269, 0.281, 0.292, 0.270,
    0.247, 0.263, 0.279, 0.255, 0.231, 0.248, 0.264, 0.276, 0.288, 0.265, 0.242, 0.258, 0.273, 0.250, 0.226, 0.242, 0.258, 0.270, 0.281, 0.258,
    0.236, 0.252, 0.268, 0.240, 0.212, 0.229, 0.245, 0.220, 0.195, 0.212, 0.229, 0.206, 0.183, 0.201, 0.218, 0.209, 0.201, 0.219, 0.236, 0.229, 0.222,
]

series_values = [apo, actino, lead60, lead144, lead145, lead191,
                 lead222, lead225, lead226, lead230, lead232]
series_colors = ["#4E63A8", "#E8392B", "#F9BA1B", "#36A33C", "#EE6A22", "#5DB9B4",
                 "#8DA2D2", "#F37A6B", "#A63F6E", "#8E78B8", "#F58C4C"]

# Legend entry placement (paper fractions of the plot width) and row
legend_x = [0.119, 0.187, 0.335, 0.482, 0.645, 0.809,
            0.119, 0.284, 0.458, 0.629, 0.796]
legend_row_y = [0.997, 0.997, 0.997, 0.997, 0.997, 0.997,
                0.940, 0.940, 0.940, 0.940, 0.940]

x_ticks = [0, 25, 50, 75, 100]
y_ticks = [0.0, 0.1, 0.2, 0.3, 0.4, 0.5]

for name, vals in zip(series_names, series_values):
    assert len(vals) == n_samples, (name, len(vals))

FONT = "Liberation Sans, Arial, sans-serif"
TXT = "#1a1a1a"

fig = go.Figure()
for name, vals, col in zip(series_names, series_values, series_colors):
    fig.add_trace(go.Scatter(
        x=time_ns, y=vals, mode="lines", name=name,
        line=dict(color=col, width=2.2), showlegend=False,
    ))

# legend entries: short thick line keys, one legend per entry
legend_layouts = {}
for i, (name, col) in enumerate(zip(series_names, series_colors)):
    lg = "legend" if i == 0 else "legend%d" % (i + 1)
    fig.add_trace(go.Scatter(
        x=[None], y=[None], mode="markers", name=name, legend=lg,
        marker=dict(symbol="line-ew", size=15, color=col,
                    line=dict(color=col, width=4)),
        showlegend=True, hoverinfo="skip",
    ))
    legend_layouts[lg] = dict(
        x=legend_x[i], y=legend_row_y[i], xanchor="left", yanchor="top",
        orientation="h", bgcolor="rgba(0,0,0,0)", borderwidth=0,
        font=dict(family=FONT, size=16.5, color=TXT, weight="bold"),
    )

# white panel behind the legend (hides gridlines there, stays under the data)
fig.add_shape(type="rect", xref="paper", yref="paper",
              x0=0.125, x1=0.975, y0=0.872, y1=0.997,
              fillcolor="white", line=dict(width=0), layer="between")

fig.update_layout(
    width=1062, height=550,
    margin=dict(l=67, r=17, t=22, b=54, autoexpand=False),
    paper_bgcolor="white", plot_bgcolor="white",
    font=dict(family=FONT, color=TXT),
    showlegend=True,
    xaxis=dict(
        range=[0, 100], tickvals=x_ticks, ticktext=[str(v) for v in x_ticks],
        showgrid=True, gridcolor="#D9D9D9", gridwidth=1,
        showline=True, linecolor="#808080", linewidth=2,
        zeroline=False, ticks="", automargin=False,
        tickfont=dict(family=FONT, size=18, color=TXT, weight="bold"),
        title=dict(text="Time (ns)", standoff=7,
                   font=dict(family=FONT, size=20, color=TXT, weight="bold")),
    ),
    yaxis=dict(
        range=[0, 0.5], tickvals=y_ticks, ticktext=["%.1f" % v for v in y_ticks],
        showgrid=True, gridcolor="#D9D9D9", gridwidth=1,
        showline=True, linecolor="#808080", linewidth=2,
        zeroline=False, ticks="", automargin=False,
        tickfont=dict(family=FONT, size=17, color=TXT, weight="bold"),
        title=dict(text="RMSD (nm)", standoff=8,
                   font=dict(family=FONT, size=20, color=TXT, weight="bold")),
    ),
    **legend_layouts,
)

fig.write_html("out.html", config={"displayModeBar": False},
               post_script="document.body.style.margin='0px';")
